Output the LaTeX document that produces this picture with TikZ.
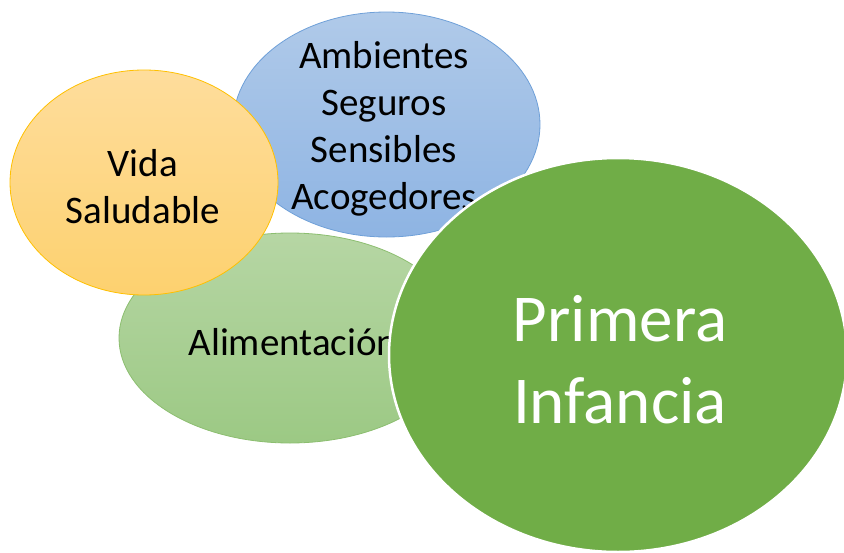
\documentclass[tikz,border=0pt]{standalone}
\usepackage{fontspec}
\setmainfont{Carlito}
\usetikzlibrary{shapes.geometric}
\definecolor{bluetop}{HTML}{B0CAE9}
\definecolor{bluebot}{HTML}{8EB4E3}
\definecolor{blueedge}{HTML}{6FA0D8}
\definecolor{yeltop}{HTML}{FEDD9C}
\definecolor{yelbot}{HTML}{FDD16F}
\definecolor{yeledge}{HTML}{FFC000}
\definecolor{lgtop}{HTML}{B6D6A4}
\definecolor{lgbot}{HTML}{9CC984}
\definecolor{lgedge}{HTML}{8CBE70}
\definecolor{biggreen}{HTML}{70AD47}
\tikzset{
  bubble/.style={ellipse, inner sep=0pt, line width=0.8pt},
  smalltext/.style={inner sep=0pt, align=center, font=\fontsize{39}{47}\selectfont, text=black},
  bigtext/.style={inner sep=0pt, align=center, font=\fontsize{67}{82}\selectfont, text=white},
  bigbubble/.style={ellipse, inner sep=0pt, fill=biggreen, draw=white, line width=2.5pt}
}
\begin{document}
\begin{tikzpicture}[x=1pt,y=-1pt]
\useasboundingbox (0,0) rectangle (844,552);
\node[bubble, minimum width=307pt, minimum height=225pt, top color=bluetop, bottom color=bluebot, draw=blueedge] (amb) at (386.5,124.5) {};
\node[smalltext] (ambt) at (384,129) {Ambientes\\Seguros\\Sensibles\\Acogedores};
\node[bubble, minimum width=342pt, minimum height=210pt, top color=lgtop, bottom color=lgbot, draw=lgedge] (ali) at (290,338) {};
\node[smalltext] (alit) at (293,342) {Alimentación};
\node[bubble, minimum width=268pt, minimum height=225pt, top color=yeltop, bottom color=yelbot, draw=yeledge] (vida) at (144,182.5) {};
\node[smalltext] (vidat) at (143,187) {Vida\\Saludable};
\node[bigbubble, minimum width=458pt, minimum height=394pt] (pi) at (618,355) {};
\node[bigtext] (pit) at (620,360) {Primera\\Infancia};
\end{tikzpicture}
\end{document}
